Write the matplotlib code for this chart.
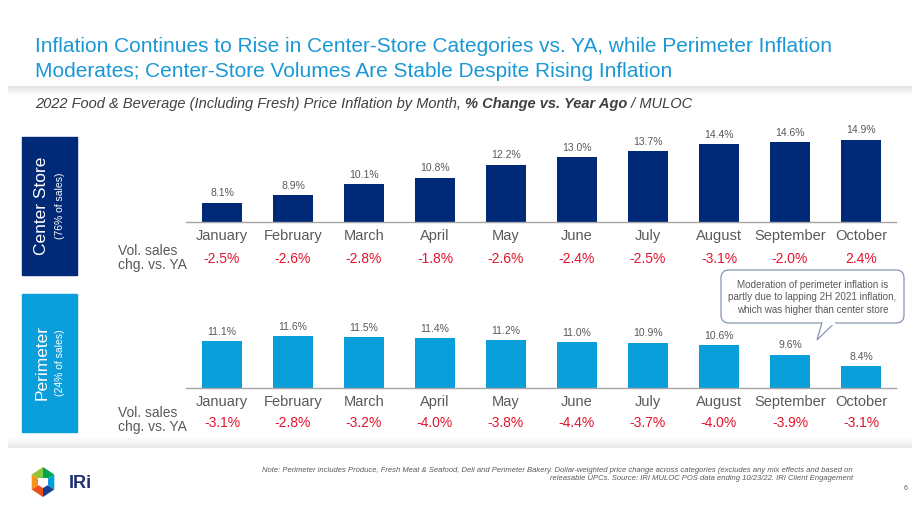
import matplotlib
matplotlib.use("Agg")
import matplotlib.pyplot as plt
import numpy as np
from matplotlib.patches import Rectangle, FancyBboxPatch, Polygon
from matplotlib import font_manager

months = ["January", "February", "March", "April", "May", "June", "July",
          "August", "September", "October"]
center_store = [8.1, 8.9, 10.1, 10.8, 12.2, 13.0, 13.7, 14.4, 14.6, 14.9]
center_vol = ["-2.5%", "-2.6%", "-2.8%", "-1.8%", "-2.6%", "-2.4%", "-2.5%",
              "-3.1%", "-2.0%", "2.4%"]
perimeter = [11.1, 11.6, 11.5, 11.4, 11.2, 11.0, 10.9, 10.6, 9.6, 8.4]
perim_vol = ["-3.1%", "-2.8%", "-3.2%", "-4.0%", "-3.8%", "-4.4%", "-3.7%",
             "-4.0%", "-3.9%", "-3.1%"]

W, H = 920, 518
fig = plt.figure(figsize=(W / 100, H / 100), dpi=100)
fig.patch.set_facecolor("white")

names = {f.name for f in font_manager.fontManager.ttflist}
base_font = "Liberation Sans" if "Liberation Sans" in names else "DejaVu Sans"
narrow_font = "Liberation Sans Narrow" if "Liberation Sans Narrow" in names else base_font
plt.rcParams["font.family"] = [base_font, "DejaVu Sans"]

def fx(x):
    return x / W

def fy(y):
    return 1 - y / H

NAVY = "#002a78"
CYAN = "#0a9edb"
GRAY = "#595959"
RED = "#e3142d"

# background axes for decorations
bg = fig.add_axes([0, 0, 1, 1])
bg.set_xlim(0, W)
bg.set_ylim(H, 0)
bg.axis("off")

# shadow bands
grad = np.linspace(0, 1, 50).reshape(-1, 1)
bg.imshow(np.repeat(0.89 + 0.11 * grad, 3, axis=1).reshape(50, 1, 3),
          extent=[8, 912, 95, 86], aspect="auto", zorder=0)
grad2 = np.linspace(1, 0, 50).reshape(-1, 1)
bg.imshow(np.repeat(0.91 + 0.09 * grad2, 3, axis=1).reshape(50, 1, 3),
          extent=[8, 912, 448, 437], aspect="auto", zorder=0)

# Title
fig.text(fx(35), fy(47), "Inflation Continues to Rise in Center-Store Categories vs. YA, while Perimeter Inflation",
         color="#1a98d5", fontsize=15, family=narrow_font, va="center", ha="left")
fig.text(fx(35), fy(72), "Moderates; Center-Store Volumes Are Stable Despite Rising Inflation",
         color="#1a98d5", fontsize=15, family=narrow_font, va="center", ha="left")

# Subtitle
t1 = fig.text(fx(35), fy(104), "2022 Food & Beverage (Including Fresh) Price Inflation by Month, ",
              color="#404040", fontsize=10.5, style="italic", va="center", ha="left")
fig.canvas.draw()
r = fig.canvas.get_renderer()
bb = t1.get_window_extent(r)
t2 = fig.text(bb.x1 / W, fy(104), "% Change vs. Year Ago",
              color="#404040", fontsize=10.5, style="italic", weight="bold", va="center", ha="left")
bb2 = t2.get_window_extent(r)
fig.text(bb2.x1 / W, fy(104), " / MULOC",
         color="#404040", fontsize=10.5, style="italic", va="center", ha="left")

# Left boxes
bg.add_patch(Rectangle((22, 137), 55, 138, color=NAVY, zorder=1))
bg.text(42, 206, "Center Store", rotation=90, color="white", fontsize=12.5,
        ha="center", va="center", zorder=2)
bg.text(60, 206, "(76% of sales)", rotation=90, color="white", fontsize=7.5,
        ha="center", va="center", zorder=2)
bg.add_patch(Rectangle((22, 294), 55, 138, color=CYAN, zorder=1))
bg.text(42, 363, "Perimeter", rotation=90, color="white", fontsize=12.5,
        ha="center", va="center", zorder=2)
bg.text(60, 363, "(24% of sales)", rotation=90, color="white", fontsize=7.5,
        ha="center", va="center", zorder=2)

PX_PER_UNIT = 9.26
X0, X1 = 186.5, 896.5

def panel(base_y, top_y, values, color, vols, month_y, vol_y, vol_label_y):
    ax = fig.add_axes([fx(X0), fy(base_y), (X1 - X0) / W, (base_y - top_y) / H])
    ax.set_xlim(-0.5, len(values) - 0.5)
    ax.set_ylim(6, 6 + (base_y - top_y) / PX_PER_UNIT)
    x = np.arange(len(values))
    ax.bar(x, values, width=0.55, color=color, zorder=2)
    for xi, v in zip(x, values):
        ax.annotate(f"{v:.1f}%", (xi, v), xytext=(0, 3), textcoords="offset points",
                    ha="center", va="bottom", fontsize=7.5, color=GRAY)
    for s in ["top", "right", "left"]:
        ax.spines[s].set_visible(False)
    ax.spines["bottom"].set_color("#a6a6a6")
    ax.spines["bottom"].set_linewidth(1.0)
    ax.set_yticks([])
    ax.set_xticks([])
    ax.patch.set_alpha(0)
    xs = [X0 + (X1 - X0) * (i + 0.5) / len(values) for i in range(len(values))]
    for xp, m, vv in zip(xs, months, vols):
        bg.text(xp, month_y, m, ha="center", va="center", fontsize=10.5, color=GRAY)
        bg.text(xp, vol_y, vv, ha="center", va="center", fontsize=10, color=RED)
    bg.text(118, vol_label_y, "Vol. sales\nchg. vs. YA", ha="left", va="center",
            fontsize=10, color=GRAY, linespacing=1.0)
    return ax

panel(222, 130, center_store, NAVY, center_vol, 236, 259, 258)
panel(388, 300, perimeter, CYAN, perim_vol, 402, 423, 420)

# Callout
box = FancyBboxPatch((721, 270), 183, 53, boxstyle="round,pad=0,rounding_size=8",
                     fc="white", ec="#8497b0", lw=0.9, zorder=5)
bg.add_patch(box)
bg.add_patch(Polygon([(822, 322.5), (817, 340), (835, 322.5)], closed=False,
                     fc="white", ec="#8497b0", lw=0.9, zorder=6))
bg.add_patch(Rectangle((822.8, 321), 11.5, 2.5, color="white", zorder=7))
bg.text(812.5, 297.5, "Moderation of perimeter inflation is\npartly due to lapping 2H 2021 inflation,\nwhich was higher than center store",
        ha="center", va="center", fontsize=7.1, color=GRAY, linespacing=1.3, zorder=8)

# Footer note
bg.text(853, 470, "Note: Perimeter includes Produce, Fresh Meat & Seafood, Deli and Perimeter Bakery. Dollar-weighted price change across categories (excludes any mix effects and based on",
        ha="right", va="center", fontsize=5.5, style="italic", color="#595959")
bg.text(853, 479, "releasable UPCs. Source: IRI MULOC POS data ending 10/23/22. IRI Client Engagement",
        ha="right", va="center", fontsize=5.5, style="italic", color="#595959")
bg.text(906, 488, "6", ha="center", va="center", fontsize=5, color="#595959")

# IRI logo (simple hexagon)
cx, cy, rr = 43, 482, 15
ang = np.deg2rad(np.arange(90, 450, 60))
pts = [(cx + rr * np.cos(a) * 0.87, cy - rr * np.sin(a)) for a in ang]
cols = ["#8cc63f", "#f7941d", "#e94e1b", "#1b3f8b", "#00a0e0", "#00a650"]
for i in range(6):
    p1 = pts[i]
    p2 = pts[(i + 1) % 6]
    bg.add_patch(Polygon([(cx, cy), p1, p2], closed=True, color=cols[i], lw=0, zorder=3))
bg.add_patch(Polygon([(cx - 5, cy - 4), (cx + 5, cy - 4), (cx + 5, cy + 3), (cx, cy + 6), (cx - 5, cy + 3)],
                     closed=True, color="white", lw=0, zorder=4))
bg.text(69, 483, "IRi", ha="left", va="center", fontsize=13, weight="bold", color="#1b2f6e")

fig.savefig("out.png", dpi=100, facecolor="white")
